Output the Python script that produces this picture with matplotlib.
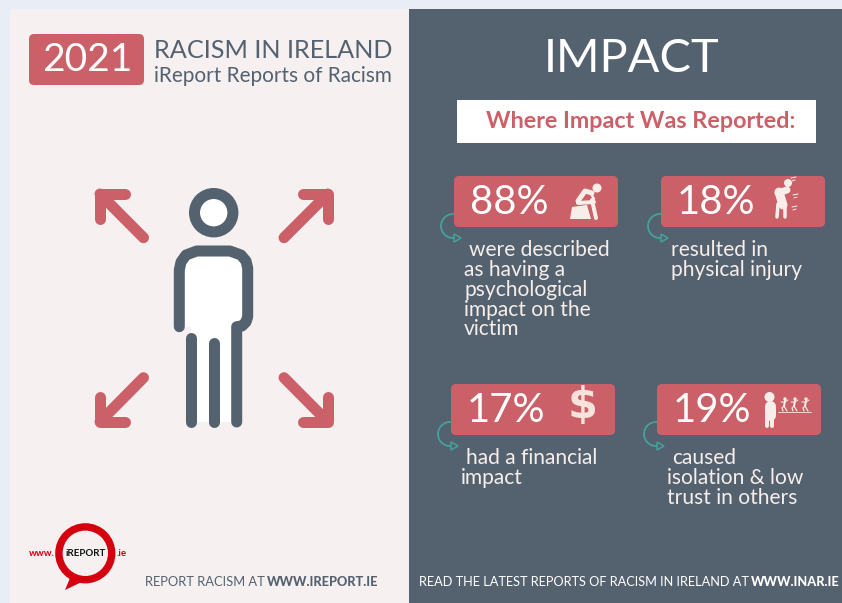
import matplotlib
matplotlib.use('Agg')
import matplotlib.pyplot as plt
from matplotlib.patches import Rectangle, Circle, FancyBboxPatch, Polygon, Arc

plt.rcParams['font.family'] = ['Lato', 'DejaVu Sans']

RED = '#CB6068'
SLATE = '#54616F'
PANEL = '#F6F0F0'
PAGE = '#E9EDF6'
TEAL = '#45A29C'
ICON = '#F7EEEA'
LOGO = '#D5000F'

# chart content
impact_values = [88, 18, 17, 19]
impact_captions = [
    ['were described', 'as having a', 'psychological', 'impact on the', 'victim'],
    ['resulted in', 'physical injury'],
    ['had a financial', 'impact'],
    ['caused', 'isolation & low', 'trust in others'],
]
year = '2021'
title = 'RACISM IN IRELAND'
subtitle = 'iReport Reports of Racism'

# layout, in reference pixels
box_left = [454, 661, 451, 657]
box_top = [176, 176, 384, 384]
text_left = [[469, 464, 464, 464, 464], [671, 671], [466, 461], [672, 667, 667]]
BOX_W, BOX_H = 164, 51


def px(size):
    return size * 0.72


fig = plt.figure(figsize=(8.42, 6.03), dpi=100, facecolor=PAGE)
ax = fig.add_axes([0, 0, 1, 1])
ax.set_xlim(0, 842)
ax.set_ylim(603, 0)
ax.axis('off')


def rounded(x, y, w, h, color, r=5, z=2):
    ax.add_patch(FancyBboxPatch((x + r, y + r), w - 2 * r, h - 2 * r,
                                boxstyle='round,pad=%d,rounding_size=%d' % (r, r),
                                fc=color, ec='none', zorder=z))


def stroke(xs, ys, color, width, z=3):
    ax.plot(xs, ys, color=color, lw=px(width), solid_capstyle='round',
            solid_joinstyle='round', zorder=z)


def label(x, y, s, size, color, ha='left', weight='normal', family=None):
    ax.text(x, y, s, fontsize=px(size), color=color, ha=ha, va='center',
            fontweight=weight, family=family, zorder=5)


ax.add_patch(Rectangle((10, 9), 399, 594, fc=PANEL, ec='none', zorder=1))
ax.add_patch(Rectangle((409, 9), 433, 594, fc=SLATE, ec='none', zorder=1))

# header left
rounded(29, 34, 115, 51, RED)
label(87, 60, year, 39, 'white', ha='center')
label(154, 51, title, 25.2, SLATE)
label(154, 76, subtitle, 20.8, SLATE)

# person
ax.add_patch(Circle((213.7, 212.7), 19.2, fc='white', ec=SLATE, lw=px(11), zorder=3))
ax.add_patch(Polygon([(180, 265), (195, 251), (232, 251), (247, 265), (247, 318),
                      (237, 327), (237, 422), (191, 422), (191, 327), (180, 327)],
                     fc='white', ec='none', zorder=2))
stroke([179.3, 179.3, 181, 186, 196.7, 230, 241, 246, 247.7, 247.7, 246, 242, 236.7, 236.7],
       [326.7, 270, 262, 255, 251, 251, 255, 261, 268, 316.7, 322, 326, 326.7, 422], SLATE, 11)
stroke([191, 191], [338, 422], SLATE, 11)
stroke([213.7, 213.7], [343, 422], SLATE, 11)

# arrows
for tip, tail, sx, sy in [((100, 194), (143.5, 237.7), 1, 1),
                          ((327.7, 194), (284, 237.7), -1, 1),
                          ((100, 421.7), (143.5, 377.7), 1, -1),
                          ((327.7, 421.7), (284, 377.7), -1, -1)]:
    stroke([tip[0], tail[0]], [tip[1], tail[1]], RED, 11)
    stroke([tip[0] + sx * 25, tip[0], tip[0]],
           [tip[1], tip[1], tip[1] + sy * 25], RED, 11)

# header right
label(632, 59, 'IMPACT', 47, 'white', ha='center')
ax.add_patch(Rectangle((457, 100), 359, 43, fc='white', ec='none', zorder=2))
label(641, 122, 'Where Impact Was Reported:', 23.4, RED, ha='center', weight='bold')

# stat boxes
for i, value in enumerate(impact_values):
    x, y = box_left[i], box_top[i]
    rounded(x, y, BOX_W, BOX_H, RED)
    label(x + 55, y + 26, '%d%%' % value, 40, 'white', ha='center')
    # y axis is inverted, so the arc runs on the left side
    ax.add_patch(Arc((x - 1, y + 50), 24, 24, theta1=85, theta2=275,
                     color=TEAL, lw=px(1.8), zorder=3))
    ax.add_patch(Polygon([(x + 0, y + 58), (x + 7, y + 62), (x + 0, y + 66)],
                         fc='none', ec=TEAL, lw=px(1.5), zorder=3))
    for j, line in enumerate(impact_captions[i]):
        label(text_left[i][j], y + 74.5 + j * 19.7, line, 21, ICON)

# icon 88: seated figure holding head
ax.add_patch(Polygon([(570, 219), (572, 207), (587, 205), (591, 219)], fc=ICON, ec='none', zorder=4))
ax.add_patch(Circle((597, 188), 4.5, fc=ICON, ec='none', zorder=4))
stroke([578, 585, 592], [201, 191, 193], ICON, 5, z=4)
stroke([592, 596], [200, 218], ICON, 4, z=4)
stroke([578, 594], [203, 202], ICON, 4, z=4)
stroke([590, 594], [192, 199], ICON, 2.5, z=4)

# icon 18: injured figure
ax.add_patch(Circle((788, 183), 4, fc=ICON, ec='none', zorder=4))
stroke([778, 787], [193, 190], ICON, 7, z=4)
stroke([779, 783], [192, 205], ICON, 9, z=4)
stroke([778, 777], [204, 217], ICON, 3.5, z=4)
stroke([785, 785], [204, 217], ICON, 3.5, z=4)
for hit_x, hit_y in [(791, 178), (793, 195), (792, 207)]:
    stroke([hit_x, hit_x + 5], [hit_y, hit_y - 1], ICON, 1, z=4)
    stroke([hit_x + 1, hit_x + 4], [hit_y + 3, hit_y + 2], ICON, 1, z=4)

# icon 17: dollar sign
label(583, 406, '$', 43, '#F7E3DC', ha='center', weight='bold', family='DejaVu Sans')

# icon 19: lone figure and group
ax.add_patch(Circle((769.5, 397), 5, fc=ICON, ec='none', zorder=4))
stroke([769.5, 769.5], [406, 415], ICON, 11, z=4)
stroke([767, 767], [415, 426], ICON, 4, z=4)
stroke([772, 772], [415, 426], ICON, 4, z=4)
for kid_x in [785, 795, 806]:
    ax.add_patch(Circle((kid_x, 399), 1.7, fc=ICON, ec='none', zorder=4))
    stroke([kid_x, kid_x - 1], [401, 406], ICON, 2, z=4)
    stroke([kid_x - 1, kid_x - 3, kid_x - 2], [406, 408, 411], ICON, 1.2, z=4)
    stroke([kid_x - 1, kid_x + 2], [406, 411], ICON, 1.2, z=4)
    stroke([kid_x - 4, kid_x, kid_x + 3], [402, 402, 400], ICON, 1, z=4)
stroke([778, 811], [412, 412], ICON, 0.8, z=4)

# logo
ax.add_patch(Polygon([(70, 578), (65, 590), (86, 580)], fc=LOGO, ec='none', zorder=3))
ax.add_patch(Circle((85.3, 553.3), 26.4, fc=PANEL, ec=LOGO, lw=px(7.4), zorder=3))
label(29, 554, 'www.', 9.8, LOGO, weight='bold')
label(86, 554, 'iREPORT', 9.8, '#111111', ha='center', weight='bold')
label(117, 554, '.ie', 9.8, LOGO, weight='bold')

# footers
label(145, 582, 'REPORT RACISM AT', 12.9, SLATE)
label(267, 582, 'WWW.IREPORT.IE', 12.7, SLATE, weight='black')
label(419, 582, 'READ THE LATEST REPORTS OF RACISM IN IRELAND AT', 12.7, 'white')
label(751, 582, 'WWW.INAR.IE', 12.7, 'white', weight='black')

fig.savefig('out.png', dpi=100, facecolor=PAGE)
